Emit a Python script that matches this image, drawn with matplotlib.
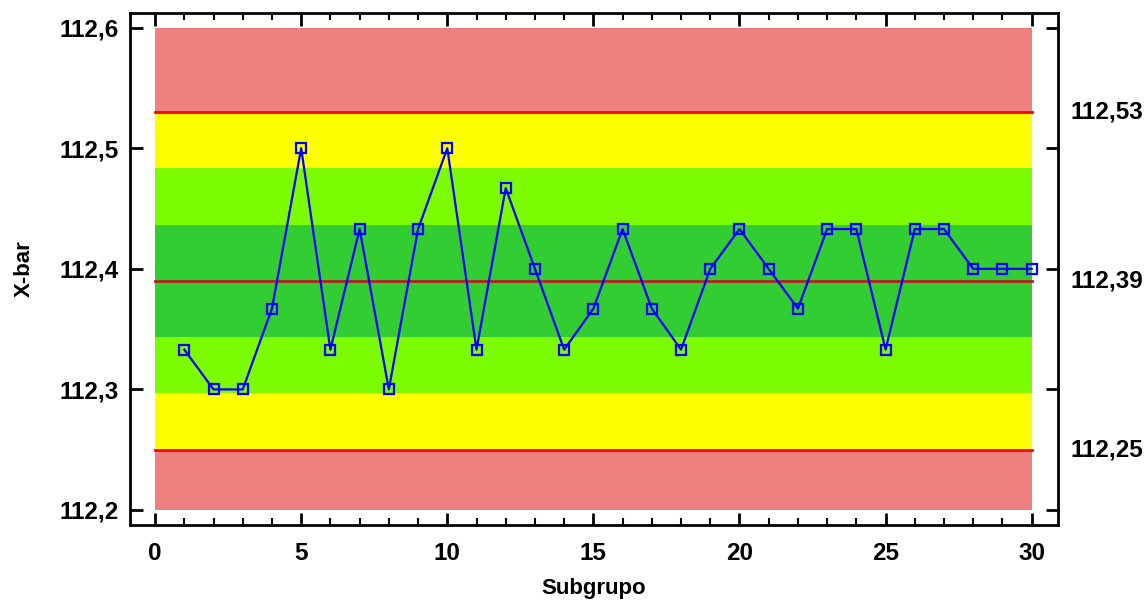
import matplotlib
matplotlib.use("Agg")
import matplotlib.pyplot as plt
import matplotlib.transforms as mtransforms
import numpy as np
from matplotlib.ticker import FuncFormatter, MultipleLocator

plt.rcParams['font.family'] = ['Liberation Sans', 'DejaVu Sans']
plt.rcParams['font.weight'] = 'bold'

# subgroup means
subgrupo = list(range(1, 31))
xbar = [112.333, 112.3, 112.3, 112.367, 112.5, 112.333, 112.433, 112.3, 112.433, 112.5,
        112.333, 112.467, 112.4, 112.333, 112.367, 112.433, 112.367, 112.333, 112.4, 112.433,
        112.4, 112.367, 112.433, 112.433, 112.333, 112.433, 112.433, 112.4, 112.4, 112.4]

# control limits
lcl = 112.25
cl = 112.39
ucl = 112.53
limit_labels = ["112,25", "112,39", "112,53"]

sigma = (ucl - cl) / 3.0
yfull = (112.2, 112.6)

fig = plt.figure(figsize=(11.45, 6.02), dpi=100)
ax = fig.add_axes([0.1135, 0.128, 0.8105, 0.85])

xs = [0, 30]
# zones
ax.fill_between(xs, yfull[0], yfull[1], color='#F08080', lw=0, zorder=0)
ax.fill_between(xs, lcl, ucl, color='#FFFF00', lw=0, zorder=1)
ax.fill_between(xs, cl - 2 * sigma, cl + 2 * sigma, color='#7CFC00', lw=0, zorder=2)
ax.fill_between(xs, cl - sigma, cl + sigma, color='#32CD32', lw=0, zorder=3)

ax.plot(xs, [ucl, ucl], color='#FF0000', lw=2, zorder=4)
ax.plot(xs, [lcl, lcl], color='#FF0000', lw=2, zorder=4)
ax.plot(xs, [cl, cl], color='#B22222', lw=2, zorder=4)

ax.plot(subgrupo, xbar, color='#0000FF', lw=1.6, marker='s', markersize=7.5,
        markerfacecolor='none', markeredgecolor='#0000FF', markeredgewidth=1.6, zorder=5)

ax.set_xlim(-0.86, 30.9)
ax.set_ylim(112.1876, 112.612)

ax.xaxis.set_major_locator(MultipleLocator(5))
ax.xaxis.set_minor_locator(MultipleLocator(1))
ax.yaxis.set_major_locator(MultipleLocator(0.1))
ax.yaxis.set_major_formatter(FuncFormatter(lambda v, p: ("%.1f" % v).replace('.', ',')))

ax.tick_params(axis='both', which='major', direction='in', length=9, width=2,
               labelsize=17.5, top=True, right=True)
ax.tick_params(axis='x', which='major', pad=12)
ax.tick_params(axis='y', which='major', pad=8)
ax.tick_params(axis='x', which='minor', direction='in', length=5, width=1.5, top=True)
for lab in ax.get_xticklabels() + ax.get_yticklabels():
    lab.set_fontweight('bold')

for s in ax.spines.values():
    s.set_linewidth(2)

ax.set_xlabel("Subgrupo", fontsize=16, fontweight='bold', labelpad=10)
ax.set_ylabel("X-bar", fontsize=16, fontweight='bold', labelpad=18)

trans = mtransforms.blended_transform_factory(ax.transAxes, ax.transData)
for val, lab in zip([lcl, cl, ucl], limit_labels):
    ax.text(1.013, val, lab, transform=trans, ha='left', va='center',
            fontsize=17.5, fontweight='bold')

fig.savefig("out.png", dpi=100)
